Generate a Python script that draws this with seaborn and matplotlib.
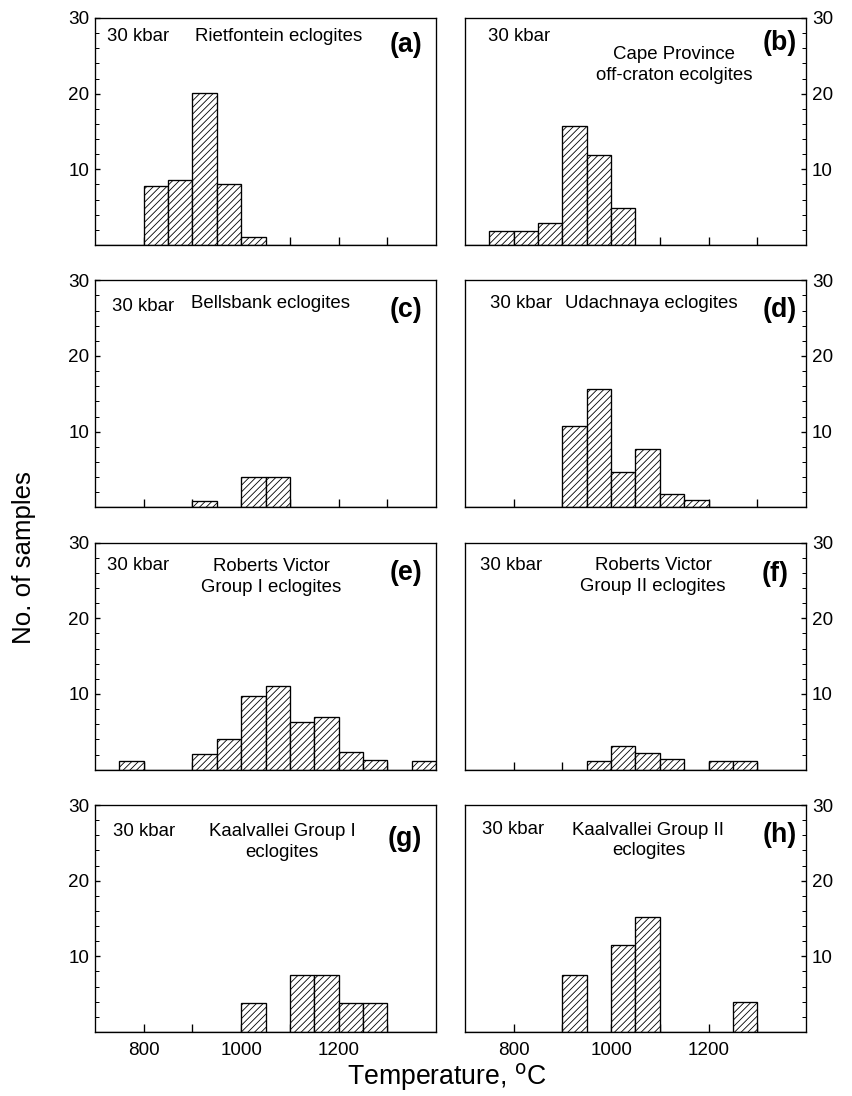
import numpy as np
import pandas as pd
import matplotlib
matplotlib.use('Agg')
import matplotlib.pyplot as plt
import seaborn as sns
from matplotlib.ticker import FixedLocator, MultipleLocator

# Datos: inicio de cada intervalo (50 C) y numero de muestras
a_temp = [800, 850, 900, 950, 1000]
a_count = [7.8, 8.6, 20.1, 8.1, 1.0]
b_temp = [750, 800, 850, 900, 950, 1000]
b_count = [1.9, 1.9, 2.9, 15.7, 11.9, 4.9]
c_temp = [900, 1000, 1050]
c_count = [0.8, 4.0, 4.0]
d_temp = [900, 950, 1000, 1050, 1100, 1150]
d_count = [10.7, 15.7, 4.6, 7.7, 1.8, 1.0]
e_temp = [750, 900, 950, 1000, 1050, 1100, 1150, 1200, 1250, 1350]
e_count = [1.2, 2.1, 4.0, 9.7, 11.1, 6.3, 7.0, 2.3, 1.3, 1.2]
f_temp = [950, 1000, 1050, 1100, 1200, 1250]
f_count = [1.2, 3.1, 2.2, 1.4, 1.2, 1.2]
g_temp = [1000, 1100, 1150, 1200, 1250]
g_count = [3.8, 7.5, 7.5, 3.8, 3.8]
h_temp = [900, 1000, 1050, 1250]
h_count = [7.5, 11.5, 15.2, 4.0]

titles = ['Rietfontein eclogites', 'Cape Province\noff-craton ecolgites',
          'Bellsbank eclogites', 'Udachnaya eclogites',
          'Roberts Victor\nGroup I eclogites', 'Roberts Victor\nGroup II eclogites',
          'Kaalvallei Group I\neclogites', 'Kaalvallei Group II\neclogites']
letters = ['(a)', '(b)', '(c)', '(d)', '(e)', '(f)', '(g)', '(h)']

panels = [(a_temp, a_count), (b_temp, b_count), (c_temp, c_count), (d_temp, d_count),
          (e_temp, e_count), (f_temp, f_count), (g_temp, g_count), (h_temp, h_count)]

# posiciones de los textos (coordenadas de ejes)
kbar_pos = [(0.035, 0.918), (0.067, 0.92), (0.05, 0.886), (0.073, 0.898),
            (0.035, 0.899), (0.044, 0.899), (0.052, 0.882), (0.05, 0.894)]
title_pos = [(0.538, 0.918), (0.614, 0.794), (0.516, 0.898), (0.545, 0.898),
             (0.517, 0.848), (0.552, 0.855), (0.549, 0.839), (0.538, 0.844)]
letter_pos = [(0.96, 0.88), (0.974, 0.89), (0.96, 0.87), (0.973, 0.87),
              (0.96, 0.868), (0.948, 0.863), (0.96, 0.85), (0.973, 0.87)]

sns.set_style('ticks')
plt.rcParams['font.family'] = ['Liberation Sans', 'DejaVu Sans']
plt.rcParams['hatch.linewidth'] = 0.5
for k in ['text.color', 'axes.labelcolor', 'xtick.color', 'ytick.color', 'axes.edgecolor']:
    plt.rcParams[k] = 'black'

fig, axes = plt.subplots(4, 2, figsize=(852 / 120, 1096 / 120), dpi=120, sharex=True, sharey=True)
fig.subplots_adjust(left=95 / 852, right=806 / 852, top=1 - 18 / 1096, bottom=1 - 1032 / 1096,
                    wspace=0.085, hspace=0.156)

for i, ax in enumerate(axes.flat):
    temp, count = panels[i]
    df = pd.DataFrame({'T': np.array(temp) + 25, 'n': count})
    sns.histplot(data=df, x='T', weights='n', binwidth=50, binrange=(700, 1400), ax=ax,
                 color='white', edgecolor='black', linewidth=0.8, hatch='//////', alpha=1)
    ax.set_xlim(700, 1400)
    ax.set_ylim(0, 30)
    ax.set_xlabel('')
    ax.set_ylabel('')
    for sp in ax.spines.values():
        sp.set_visible(True)
        sp.set_linewidth(0.8)
        sp.set_color('black')
    ax.xaxis.set_major_locator(FixedLocator([800, 1000, 1200]))
    ax.xaxis.set_minor_locator(FixedLocator([900, 1100, 1300]))
    ax.yaxis.set_major_locator(FixedLocator([10, 20, 30]))
    ax.yaxis.set_minor_locator(MultipleLocator(2))
    ax.tick_params(axis='x', which='both', direction='in', length=5, width=0.8, labelsize=11.3, pad=6)
    ax.tick_params(axis='y', which='major', direction='in', length=3, width=0.8, labelsize=11.3)
    ax.tick_params(axis='y', which='minor', direction='in', length=2.2, width=0.6)
    if i % 2 == 1:
        ax.yaxis.tick_right()
        ax.tick_params(axis='y', which='both', left=False, right=True, labelright=True, labelleft=False)
    ax.text(*kbar_pos[i], '30 kbar', transform=ax.transAxes, fontsize=11.2, ha='left', va='center')
    ax.text(*title_pos[i], titles[i], transform=ax.transAxes, fontsize=11.2, ha='center', va='center',
            linespacing=1.3)
    ax.text(*letter_pos[i], letters[i], transform=ax.transAxes, fontsize=16, fontweight='bold',
            ha='right', va='center')

fig.text(24 / 852, 1 - 558 / 1096, 'No. of samples', rotation=90, fontsize=15.5, ha='center', va='center')
fig.text(447 / 852, 1 - 1077 / 1096, 'Temperature, $^{\\mathrm{o}}$C', fontsize=16, ha='center', va='center')

plt.savefig('out.png', dpi=120)
